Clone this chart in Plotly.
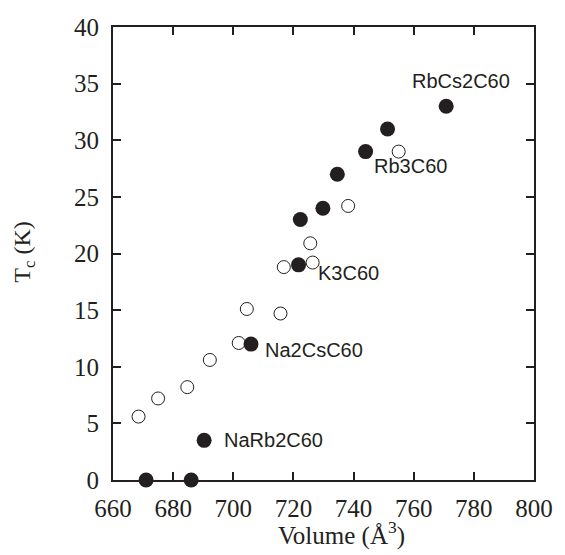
import plotly.graph_objects as go

# Filled circles (data points)
filled_volume = [671, 686, 690.3, 705.9, 721.7, 722.3, 729.8, 734.6, 744.0, 751.3, 770.8]
filled_tc = [0, 0, 3.5, 12.0, 19.0, 23.0, 24.0, 27.0, 29.0, 31.0, 33.0]

# Open circles
open_volume = [668.5, 675.0, 684.7, 692.2, 701.8, 704.5, 715.7, 716.8, 725.6, 726.4, 738.2, 755.0]
open_tc = [5.6, 7.2, 8.2, 10.6, 12.1, 15.1, 14.7, 18.8, 20.9, 19.2, 24.2, 29.0]

# Compound labels
label_text = ["RbCs2C60", "Rb3C60", "K3C60", "Na2CsC60", "NaRb2C60"]
label_x = [758.6, 746.0, 727.5, 710.0, 696.2]
label_y = [35.2, 27.7, 18.3, 11.5, 3.5]

x_ticks = [660, 680, 700, 720, 740, 760, 780, 800]
y_ticks = [0, 5, 10, 15, 20, 25, 30, 35, 40]

ink = "#231f20"
serif = "Liberation Serif"

fig = go.Figure()
fig.add_trace(go.Scatter(
    x=open_volume, y=open_tc, mode="markers",
    marker=dict(symbol="circle", size=13, color="white",
                line=dict(color=ink, width=1)),
    showlegend=False, cliponaxis=False))
fig.add_trace(go.Scatter(
    x=filled_volume, y=filled_tc, mode="markers",
    marker=dict(symbol="circle", size=15, color=ink,
                line=dict(color=ink, width=0)),
    showlegend=False, cliponaxis=False))

for t, lx, ly in zip(label_text, label_x, label_y):
    fig.add_annotation(x=lx, y=ly, text=t, showarrow=False,
                       xanchor="left", yanchor="middle",
                       font=dict(family="Liberation Sans", size=20, color=ink))

axis_common = dict(
    showline=True, linecolor=ink, linewidth=2, mirror="allticks",
    ticks="inside", ticklen=8, tickwidth=2, tickcolor=ink,
    showgrid=False, zeroline=False,
    tickfont=dict(family=serif, size=25, color=ink),
)

fig.update_xaxes(range=[660, 800], tickvals=x_ticks, ticktext=[str(v) for v in x_ticks],
                 ticklabelstandoff=5, **axis_common)
fig.update_yaxes(range=[0, 40], tickvals=y_ticks, ticktext=[str(v) for v in y_ticks],
                 ticklabelstandoff=7, **axis_common)

fig.add_annotation(xref="paper", yref="paper", x=0.543, y=-0.118,
                   text="Volume (Å<sup>3</sup>)", showarrow=False,
                   xanchor="center", yanchor="middle",
                   font=dict(family=serif, size=25, color=ink))
fig.add_annotation(xref="paper", yref="paper", x=-0.21, y=0.503,
                   text="T<sub>c</sub> (K)", showarrow=False, textangle=-90,
                   xanchor="center", yanchor="middle",
                   font=dict(family=serif, size=24, color=ink))

fig.update_layout(
    width=565, height=555,
    margin=dict(l=113, r=19, t=27, b=75),
    paper_bgcolor="white", plot_bgcolor="white",
)

fig.write_html("out.html")
